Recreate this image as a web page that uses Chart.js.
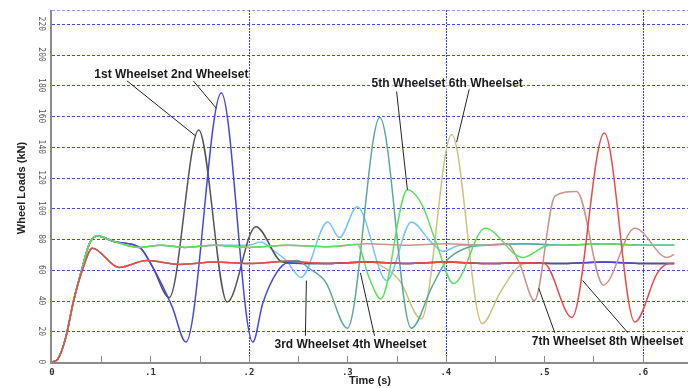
<!DOCTYPE html>
<html>
<head>
<meta charset="utf-8">
<script src="https://cdn.jsdelivr.net/npm/chart.js@4.4.1/dist/chart.umd.min.js"></script>
<style>
html, body { margin: 0; padding: 0; background: #fff; }
#wrap { width: 688px; height: 388px; position: relative; }
</style>
</head>
<body>
<div id="wrap"><canvas id="chart"></canvas></div>
<script>
// time (s), wheel load (kN)
const ws1 = [[0,0],[0.006,2],[0.014,16],[0.022,40],[0.031,62],[0.038,77],[0.046,82],[0.065,78],[0.089,74.5],[0.102,62],[0.119,42],[0.149,151],[0.178,39],[0.207,88],[0.234,65],[0.26,64],[0.28,64],[0.32,65],[0.36,64],[0.4,65],[0.44,64],[0.48,64.5],[0.52,64],[0.56,65],[0.6,64],[0.632,64]]
const ws2 = [[0,0],[0.006,2],[0.014,16],[0.022,40],[0.031,62],[0.038,77],[0.046,82],[0.065,78],[0.089,74.5],[0.102,62],[0.122,36],[0.136,13],[0.172,175],[0.204,13],[0.214,38],[0.228,58],[0.24,64.5],[0.26,64],[0.28,64],[0.32,65],[0.36,64],[0.4,65],[0.44,64],[0.48,64.5],[0.52,64],[0.56,65],[0.6,64],[0.632,64]]
const ws3 = [[0,0],[0.006,2],[0.014,16],[0.022,40],[0.031,62],[0.038,77],[0.046,82],[0.065,78],[0.089,74.5],[0.11,76],[0.135,74.5],[0.165,76],[0.2,76],[0.212,78],[0.224,73],[0.238,66],[0.253,55],[0.28,91],[0.292,81],[0.31,101],[0.34,53],[0.365,91],[0.385,78],[0.397,72],[0.415,76],[0.44,76],[0.48,77],[0.52,76],[0.56,77],[0.6,76],[0.632,76]]
const ws4 = [[0,0],[0.006,2],[0.014,16],[0.022,40],[0.031,60],[0.041,74],[0.068,61.5],[0.096,66],[0.13,63.5],[0.165,65],[0.2,64],[0.235,65.5],[0.249,66],[0.261,61],[0.278,52],[0.3,22],[0.333,159],[0.365,22],[0.386,49],[0.401,66],[0.42,74],[0.44,76],[0.48,77],[0.52,76],[0.56,77],[0.6,76],[0.632,76]]
const ws5 = [[0,0],[0.006,2],[0.014,16],[0.022,40],[0.031,62],[0.038,77],[0.046,82],[0.065,78],[0.089,74.5],[0.11,76],[0.135,74.5],[0.165,76],[0.2,74.5],[0.24,76],[0.28,75],[0.31,76.5],[0.322,55],[0.334,41],[0.361,112],[0.376,102],[0.39,78],[0.408,51],[0.44,87],[0.478,68],[0.505,76],[0.52,76],[0.56,77],[0.6,76],[0.632,76]]
const ws6 = [[0,0],[0.006,2],[0.014,16],[0.022,40],[0.031,60],[0.041,74],[0.068,61.5],[0.096,66],[0.13,63.5],[0.165,65],[0.2,64],[0.24,65.5],[0.28,64],[0.32,65],[0.33,64],[0.353,53],[0.375,28],[0.406,148],[0.437,25],[0.455,45],[0.476,63],[0.49,64.5],[0.52,64],[0.56,65],[0.6,64],[0.632,64]]
const ws7 = [[0,0],[0.006,2],[0.014,16],[0.022,40],[0.031,62],[0.038,77],[0.046,82],[0.065,78],[0.089,74.5],[0.11,76],[0.135,74.5],[0.165,76],[0.2,74.5],[0.24,76],[0.28,75],[0.32,77],[0.36,76],[0.4,77],[0.44,76],[0.462,77],[0.475,64],[0.49,40],[0.511,108],[0.533,111],[0.56,50],[0.592,87],[0.625,68],[0.632,70]]
const ws8 = [[0,0],[0.006,2],[0.014,16],[0.022,40],[0.031,60],[0.041,74],[0.068,61.5],[0.096,66],[0.13,63.5],[0.165,65],[0.2,64],[0.24,65.5],[0.28,64],[0.32,65],[0.36,64],[0.4,65],[0.44,64],[0.48,64.5],[0.5,64],[0.528,29],[0.561,149],[0.592,26],[0.615,58],[0.627,64],[0.632,64]]

const seriesNames = ['1st Wheelset', '2nd Wheelset', '3rd Wheelset', '4th Wheelset', '5th Wheelset', '6th Wheelset', '7th Wheelset', '8th Wheelset']
const seriesColors = ['#555555', '#4848d8', '#72c8f0', '#5aa89c', '#5ee05e', '#c8c478', '#c8958a', '#e84a48']
const drawOrder = [5, 4, 6, 3, 1, 7, 2, 0]
const majorTimes = [0.2, 0.4, 0.6]

// label text, label left (s, kN), leader lines [from s, from kN, to s, to kN]
const notes = [
    { text: '1st Wheelset 2nd Wheelset', x: 0.043, y: 187, lines: [[0.076, 183, 0.146, 147], [0.1434, 183, 0.167, 165]] },
    { text: '5th Wheelset 6th Wheelset', x: 0.3245, y: 181, lines: [[0.35, 176, 0.361, 112], [0.424, 178, 0.411, 143]] },
    { text: '3rd Wheelset 4th Wheelset', x: 0.226, y: 11, lines: [[0.2574, 17, 0.2584, 53], [0.3276, 17, 0.3133, 58]] },
    { text: '7th Wheelset 8th Wheelset', x: 0.4873, y: 13.5, lines: [[0.5107, 19, 0.4944, 48], [0.585, 19, 0.539, 53]] }
]

const allSeries = [ws1, ws2, ws3, ws4, ws5, ws6, ws7, ws8]

function loadTicks(scale) {
    return scale.ticks.filter(t => t.value % 20 === 0)
}

const frame = {
    id: 'frame',
    beforeDatasetsDraw(chart) {
        const { ctx, chartArea: a, scales: { x, y } } = chart
        ctx.save()
        ctx.lineWidth = 1
        ctx.strokeStyle = '#4a4ad4'
        ctx.setLineDash([3, 2])
        loadTicks(y).forEach(t => {
            const py = Math.round(y.getPixelForValue(t.value)) + 0.5
            ctx.beginPath(); ctx.moveTo(a.left, py); ctx.lineTo(a.right, py); ctx.stroke()
        })
        ctx.strokeStyle = '#9a9ae6'
        ctx.beginPath(); ctx.moveTo(a.left, a.top + 0.5); ctx.lineTo(a.right, a.top + 0.5); ctx.stroke()
        ctx.strokeStyle = '#3a3ae6'
        ctx.setLineDash([2, 1])
        majorTimes.forEach(v => {
            const px = Math.round(x.getPixelForValue(v)) + 0.5
            ctx.beginPath(); ctx.moveTo(px, a.top); ctx.lineTo(px, a.bottom); ctx.stroke()
        })
        ctx.restore()
    },
    afterDatasetsDraw(chart) {
        const { ctx, chartArea: a, scales: { x, y } } = chart
        ctx.save()
        // axes
        ctx.strokeStyle = '#8a8a8a'
        ctx.lineWidth = 2
        ctx.beginPath(); ctx.moveTo(a.left - 1, a.top); ctx.lineTo(a.left - 1, a.bottom + 1); ctx.lineTo(a.right, a.bottom + 1); ctx.stroke()
        ctx.lineWidth = 1
        x.ticks.forEach(t => {
            const px = Math.round(x.getPixelForValue(t.value)) + 0.5
            if (t.value === 0) return
            ctx.beginPath(); ctx.moveTo(px, a.bottom); ctx.lineTo(px, a.bottom - 6); ctx.stroke()
        })
        // y tick labels, turned
        ctx.fillStyle = '#555'
        ctx.font = '8px "DejaVu Sans Mono"'
        ctx.textAlign = 'center'
        ctx.textBaseline = 'middle'
        loadTicks(y).forEach(t => {
            ctx.save()
            ctx.translate(41, y.getPixelForValue(t.value))
            ctx.rotate(Math.PI / 2)
            ctx.fillText(String(t.value), 0, 0)
            ctx.restore()
        })
        // y title
        ctx.save()
        ctx.fillStyle = '#222'
        ctx.font = 'bold 11px "Liberation Sans", Arial'
        ctx.translate(22, (a.top + a.bottom) / 2 + 2)
        ctx.rotate(-Math.PI / 2)
        ctx.fillText('Wheel Loads (kN)', 0, 0)
        ctx.restore()
        // notes
        ctx.strokeStyle = '#222'
        ctx.lineWidth = 1
        notes.forEach(n => {
            n.lines.forEach(l => {
                ctx.beginPath()
                ctx.moveTo(x.getPixelForValue(l[0]), y.getPixelForValue(l[1]))
                ctx.lineTo(x.getPixelForValue(l[2]), y.getPixelForValue(l[3]))
                ctx.stroke()
            })
        })
        ctx.font = 'bold 12px "Liberation Sans", Arial'
        ctx.textAlign = 'left'
        notes.forEach(n => {
            const px = x.getPixelForValue(n.x), py = y.getPixelForValue(n.y)
            const w = ctx.measureText(n.text).width
            ctx.fillStyle = 'rgba(255,255,255,0.6)'
            ctx.fillRect(px - 1, py - 6, w + 2, 12)
            ctx.fillStyle = '#1a1a1a'
            ctx.fillText(n.text, px, py)
        })
        ctx.restore()
    }
}

const ctx = document.getElementById('chart').getContext('2d')

const chart = new Chart(ctx, {
    type: 'line',
    data: {
        datasets: allSeries.map((s, i) => ({
            label: seriesNames[i],
            data: s.map(p => ({ x: p[0], y: p[1] })),
            borderColor: seriesColors[i],
            borderWidth: 1.5,
            pointRadius: 0,
            fill: false,
            cubicInterpolationMode: 'monotone',
            order: drawOrder[i]
        }))
    },
    options: {
        responsive: true,
        maintainAspectRatio: false,
        animation: false,
        layout: { padding: { top: 10, right: 0, left: 0, bottom: 0 } },
        plugins: { legend: { display: false }, tooltip: { enabled: false } },
        scales: {
            x: {
                type: 'linear',
                min: 0,
                max: 0.646,
                grid: { display: false, drawTicks: false },
                border: { display: false },
                ticks: {
                    stepSize: 0.05,
                    includeBounds: false,
                    autoSkip: false,
                    maxRotation: 0,
                    padding: 5,
                    color: '#333',
                    font: { family: '"DejaVu Sans Mono"', size: 9, weight: 'bold' },
                    callback: v => {
                        const k = Math.round(v * 100)
                        if (k % 10 !== 0) return ''
                        return k === 0 ? '0' : '.' + (k / 10)
                    }
                },
                title: {
                    display: true,
                    text: 'Time (s)',
                    color: '#222',
                    font: { family: '"Liberation Sans", Arial', size: 11, weight: 'bold' },
                    padding: { top: 0, bottom: 0 }
                },
                afterFit: s => { s.height = 26 }
            },
            y: {
                min: 0,
                max: 229,
                grid: { display: false, drawTicks: false },
                border: { display: false },
                ticks: { stepSize: 20, display: false },
                afterFit: s => { s.width = 52 }
            }
        }
    },
    plugins: [frame]
})
</script>
</body>
</html>
